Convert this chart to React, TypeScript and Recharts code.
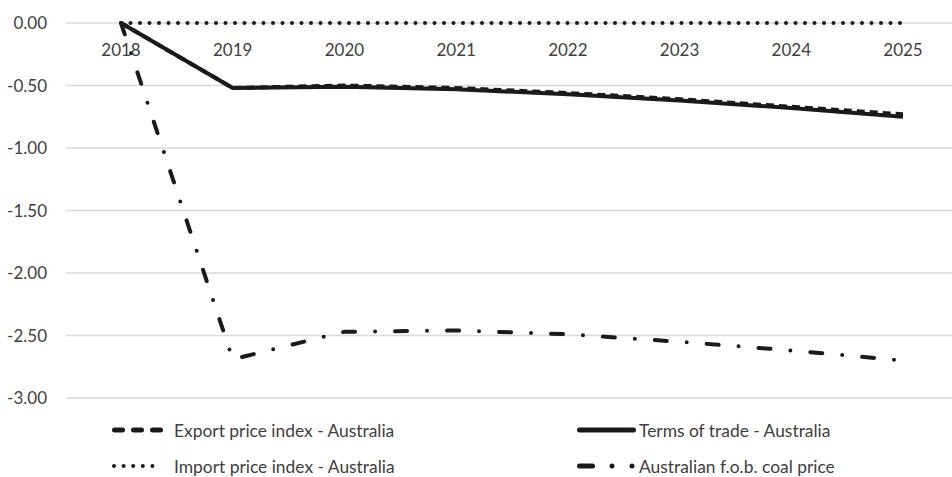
import React from 'react'
import { LineChart, Line, XAxis, YAxis, CartesianGrid } from 'recharts'

const years = ['2018', '2019', '2020', '2021', '2022', '2023', '2024', '2025']
const exportPrice = [0, -0.52, -0.5, -0.52, -0.56, -0.61, -0.67, -0.73]
const termsOfTrade = [0, -0.52, -0.51, -0.53, -0.57, -0.62, -0.68, -0.75]
const importPrice = [0, 0, 0, 0, 0, 0, 0, 0]
const coalPrice = [0, -2.69, -2.47, -2.46, -2.49, -2.55, -2.62, -2.7]
const yTicks = [0, -0.5, -1, -1.5, -2, -2.5, -3]

const data = years.map((year, i) => ({
  year,
  exportPrice: exportPrice[i],
  termsOfTrade: termsOfTrade[i],
  importPrice: importPrice[i],
  coalPrice: coalPrice[i]
}))

const FONT = 'Lato, "Liberation Sans", sans-serif'
const TEXT = '#404040'
const INK = '#1a1a1a'

// year labels sit just under the zero line
const renderYearTick = (props: any) => {
  const { x, y, payload } = props
  return (
    <text key={payload.value} x={x} y={y + 33} textAnchor="middle" fill={TEXT} fontSize={17} fontFamily={FONT}>
      {payload.value}
    </text>
  )
}

// legend swatches, drawn like the Excel original
const ChartLegend: React.FC = () => (
  <svg width={952} height={477} style={{ position: 'absolute', left: 0, top: 0, pointerEvents: 'none' }}>
    <g stroke={INK} strokeLinecap="round" fill="none">
      <line x1={114.5} y1={430} x2={160.5} y2={430} strokeWidth={5} strokeDasharray="8 11" />
      <line x1={114} y1={466} x2={162} y2={466} strokeWidth={4} strokeDasharray="0 9.6" />
      <line x1={579.5} y1={430} x2={633.5} y2={430} strokeWidth={5} />
      <line x1={579.5} y1={466} x2={634} y2={466} strokeWidth={5} strokeDasharray="13 19.5 0 20 0 50" />
    </g>
    <g fill={TEXT} fontSize={17.4} fontFamily={FONT} dominantBaseline="central">
      <text x={174} y={430}>Export price index - Australia</text>
      <text x={174} y={466}>Import price index - Australia</text>
      <text x={639} y={430}>Terms of trade - Australia</text>
      <text x={639} y={466}>Australian f.o.b. coal price</text>
    </g>
  </svg>
)

const App: React.FC = () => {
  return (
    <div style={{ position: 'absolute', left: 0, top: 0, width: 952, height: 477, overflow: 'hidden', background: '#fff' }}>
      <LineChart width={958} height={477} data={data} margin={{ top: 22, right: 0, bottom: 79, left: 0 }}>
        <CartesianGrid vertical={false} stroke="#d9d9d9" strokeWidth={1.5} />
        <XAxis
          dataKey="year"
          orientation="top"
          height={1}
          interval={0}
          padding={{ left: 55, right: 55 }}
          axisLine={false}
          tickLine={false}
          tickSize={0}
          tickMargin={0}
          tick={renderYearTick}
        />
        <YAxis
          type="number"
          domain={[-3, 0]}
          ticks={yTicks}
          width={66}
          axisLine={false}
          tickLine={false}
          tickMargin={13}
          tickFormatter={(v: number) => v.toFixed(2)}
          tick={{ fill: TEXT, fontSize: 17, fontFamily: FONT }}
        />
        <Line
          type="linear"
          dataKey="importPrice"
          stroke={INK}
          strokeWidth={4}
          strokeDasharray="0 9.5"
          strokeLinecap="round"
          dot={false}
          isAnimationActive={false}
        />
        <Line
          type="linear"
          dataKey="coalPrice"
          stroke={INK}
          strokeWidth={4}
          strokeDasharray="12 20 0 20"
          strokeLinecap="round"
          dot={false}
          isAnimationActive={false}
        />
        <Line
          type="linear"
          dataKey="exportPrice"
          stroke={INK}
          strokeWidth={4}
          strokeDasharray="8 5"
          dot={false}
          isAnimationActive={false}
        />
        <Line
          type="linear"
          dataKey="termsOfTrade"
          stroke={INK}
          strokeWidth={4}
          strokeLinejoin="round"
          dot={false}
          isAnimationActive={false}
        />
      </LineChart>
      <ChartLegend />
    </div>
  )
}

export default App
